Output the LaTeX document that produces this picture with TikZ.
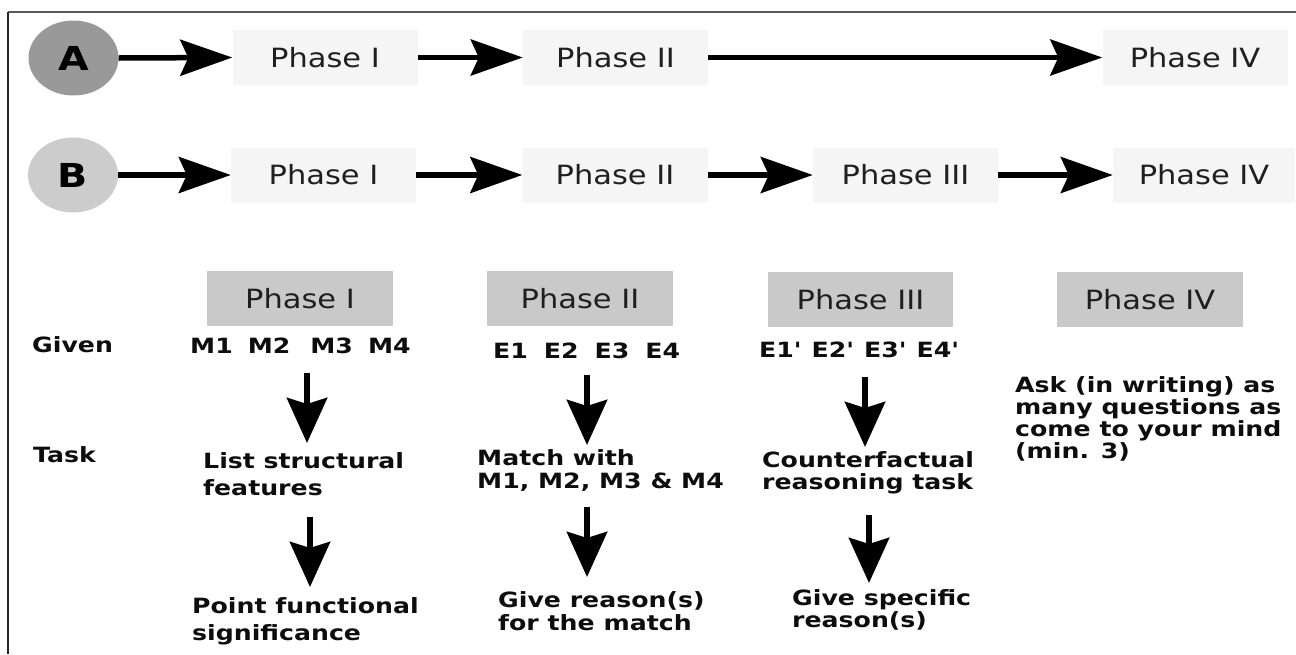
\documentclass[tikz,border=0pt]{standalone}
\usepackage{fontspec}
\setmainfont{DejaVu Sans}
\newfontfamily\regf[FakeStretch=1.15]{DejaVu Sans}
\newfontfamily\boldf[FakeStretch=1.2,Ligatures=TeXOff]{DejaVu Sans}
\usetikzlibrary{arrows.meta,shapes.geometric}
\begin{document}
\begin{tikzpicture}[x=1pt,y=-1pt,
  phasebox/.style={minimum width=185pt,minimum height=55pt,inner sep=0pt,
    font=\regf\fontsize{26.5}{30}\selectfont,text=black!88},
  topbox/.style={phasebox,fill=black!4},
  greybox/.style={phasebox,fill=black!21},
  letter/.style={ellipse,minimum width=90pt,minimum height=75pt,inner sep=0pt,
    font=\boldf\bfseries\fontsize{33}{36}\selectfont},
  harrow/.style={line width=5.5pt,-{Stealth[length=52pt,width=36pt,inset=8pt]}},
  varrow/.style={line width=6.5pt,-{Stealth[length=45pt,width=40pt,inset=6pt]}},
  btext/.style={font=\boldf\bfseries\fontsize{21}{23}\selectfont,anchor=base west,
    align=left,inner sep=0pt,text=black!95},
]
\useasboundingbox (0,0) rectangle (1296,654);
\fill[white] (0,0) rectangle (1296,654);
% frame
\draw[line width=1.8pt,black!65] (8,12) -- (1296,12);
\draw[line width=2.2pt,black!85] (8,12) -- (8,654);

% row A
\node[letter,fill=black!40] (A) at (73.5,58) {A};
\node[topbox] (AP1) at (325,57.5) {Phase I};
\node[topbox] (AP2) at (615.5,57.5) {Phase II};
\node[topbox] (AP4) at (1195,57.5) {Phase IV};
\draw[harrow] (A.east) -- (AP1.west);
\draw[harrow] (AP1.east) -- (AP2.west);
\draw[harrow] (AP2.east) -- (AP4.west);

% row B
\node[letter,fill=black!20] (B) at (73,175) {B};
\node[topbox] (BP1) at (323.5,175) {Phase I};
\node[topbox] (BP2) at (615,175) {Phase II};
\node[topbox] (BP3) at (905.5,175) {Phase III};
\node[topbox,minimum width=182pt] (BP4) at (1204,175) {Phase IV};
\draw[harrow] (B.east) -- (BP1.west);
\draw[harrow] (BP1.east) -- (BP2.west);
\draw[harrow] (BP2.east) -- (BP3.west);
\draw[harrow] (BP3.east) -- (BP4.west);

% detail boxes
\node[greybox,minimum width=186pt] (GP1) at (300,298.5) {Phase I};
\node[greybox,minimum width=186pt] (GP2) at (580,298.5) {Phase II};
\node[greybox,minimum width=185pt] (GP3) at (860.5,299.5) {Phase III};
\node[greybox,minimum width=186pt] (GP4) at (1150,299.5) {Phase IV};

% labels
\node[btext] (given) at (32,352) {Given};
\node[btext] (task) at (33,462) {Task};

\node[btext] (M) at (190,353) {M1\hspace{15pt}M2\hspace{20pt}M3\hspace{15pt}M4};
\node[btext] (E) at (493,358) {E1\hspace{16pt}E2\hspace{16pt}E3\hspace{16pt}E4};
\node[btext] (Ep) at (759,357) {E1'\hspace{10pt}E2'\hspace{10pt}E3'\hspace{10pt}E4'};

% multi-line texts: anchor at the baseline of the last line
\node[btext,font=\boldf\bfseries\fontsize{21}{27}\selectfont] (T1) at (203,495) {List structural\\features};
\node[btext,font=\boldf\bfseries\fontsize{21}{27}\selectfont] (R1) at (192,640) {Point functional\\significance};
\node[btext] (T2) at (477,488) {Match with\\M1, M2, M3 \& M4};
\node[btext] (R2) at (498,630) {Give reason(s)\\for the match};
\node[btext,font=\boldf\bfseries\fontsize{21}{22}\selectfont] (T3) at (762,489) {Counterfactual\\reasoning task};
\node[btext,font=\boldf\bfseries\fontsize{21}{22}\selectfont] (R3) at (792,627) {Give specific\\reason(s)};
\node[btext,font=\boldf\bfseries\fontsize{21}{21.7}\selectfont] (T4) at (1015,458) {Ask (in writing) as\\many questions as\\come to your mind\\(min. 3)};

% vertical arrows
\coordinate (a1s) at (307,373); \coordinate (a1e) at (307,443);
\coordinate (b1s) at (310,517); \coordinate (b1e) at (310,587);
\coordinate (a2s) at (587,375); \coordinate (a2e) at (587,445);
\coordinate (b2s) at (587,507); \coordinate (b2e) at (587,577);
\coordinate (a3s) at (865,377); \coordinate (a3e) at (865,447);
\coordinate (b3s) at (869,515); \coordinate (b3e) at (869,583);
\draw[varrow] (a1s) -- (a1e);
\draw[varrow] (b1s) -- (b1e);
\draw[varrow] (a2s) -- (a2e);
\draw[varrow] (b2s) -- (b2e);
\draw[varrow] (a3s) -- (a3e);
\draw[varrow] (b3s) -- (b3e);
\end{tikzpicture}
\end{document}
